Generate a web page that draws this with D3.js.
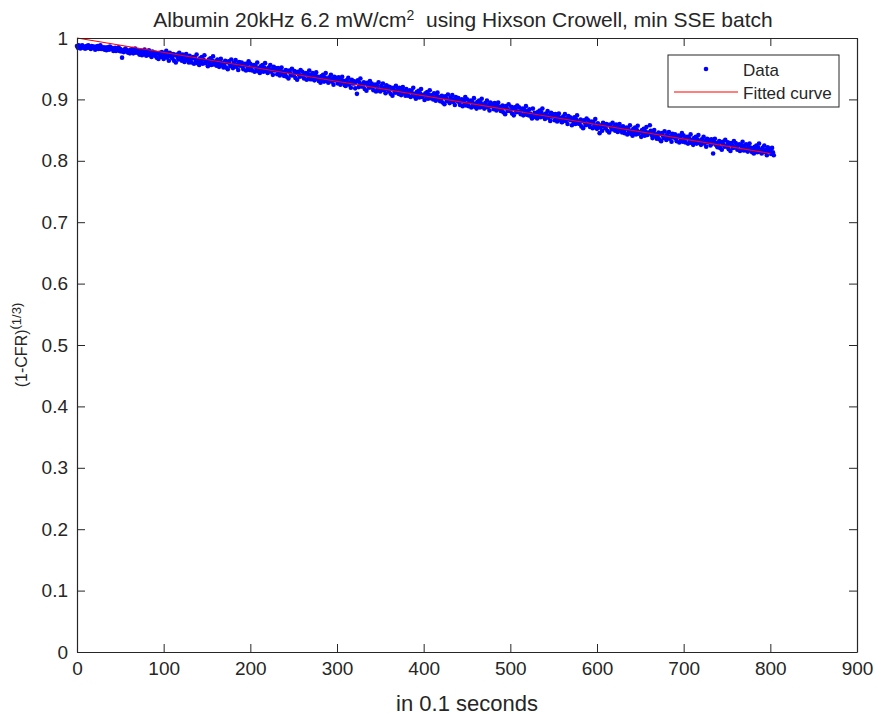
<!DOCTYPE html>
<html>
<head>
<meta charset="utf-8">
<script src="https://cdn.jsdelivr.net/npm/d3@7"></script>
<style>
  body { margin: 0; background: #fff; }
  text { font-family: "Liberation Sans", Arial, Helvetica, sans-serif; fill: #262626; }
</style>
</head>
<body>
<div id="graph"></div>
<script>
// one sample per time unit (0.1 s), t = 0 .. 804
const xStep = 1;
const dataValues = [
  0.987, 0.984, 0.988, 0.985, 0.983, 0.986, 0.988, 0.984, 0.986, 0.983,
  0.983, 0.987, 0.984, 0.988, 0.984, 0.985, 0.982, 0.987, 0.985, 0.986,
  0.984, 0.981, 0.986, 0.983, 0.987, 0.982, 0.985, 0.988, 0.982, 0.984,
  0.982, 0.985, 0.981, 0.984, 0.980, 0.985, 0.983, 0.981, 0.986, 0.982,
  0.984, 0.982, 0.979, 0.983, 0.984, 0.979, 0.983, 0.981, 0.985, 0.979,
  0.982, 0.978, 0.968, 0.980, 0.977, 0.981, 0.983, 0.978, 0.980, 0.976,
  0.979, 0.975, 0.981, 0.977, 0.982, 0.975, 0.979, 0.983, 0.976, 0.978,
  0.980, 0.976, 0.973, 0.977, 0.979, 0.972, 0.978, 0.975, 0.981, 0.973,
  0.971, 0.977, 0.973, 0.980, 0.972, 0.975, 0.969, 0.978, 0.974, 0.976,
  0.971, 0.976, 0.968, 0.975, 0.966, 0.976, 0.972, 0.969, 0.977, 0.970,
  0.966, 0.975, 0.969, 0.979, 0.968, 0.972, 0.963, 0.976, 0.970, 0.974,
  0.967, 0.974, 0.963, 0.972, 0.960, 0.973, 0.969, 0.965, 0.976, 0.966,
  0.970, 0.963, 0.973, 0.966, 0.961, 0.969, 0.974, 0.964, 0.967, 0.960,
  0.971, 0.964, 0.960, 0.967, 0.969, 0.958, 0.968, 0.963, 0.973, 0.959,
  0.964, 0.956, 0.967, 0.961, 0.969, 0.958, 0.965, 0.972, 0.959, 0.962,
  0.962, 0.954, 0.965, 0.959, 0.967, 0.956, 0.963, 0.970, 0.957, 0.960,
  0.962, 0.955, 0.965, 0.958, 0.953, 0.961, 0.966, 0.956, 0.959, 0.952,
  0.956, 0.963, 0.952, 0.961, 0.949, 0.962, 0.958, 0.954, 0.965, 0.955,
  0.951, 0.960, 0.954, 0.964, 0.953, 0.957, 0.948, 0.961, 0.955, 0.959,
  0.960, 0.953, 0.949, 0.956, 0.958, 0.947, 0.957, 0.952, 0.962, 0.948,
  0.958, 0.951, 0.947, 0.954, 0.956, 0.945, 0.955, 0.950, 0.960, 0.946,
  0.951, 0.943, 0.954, 0.948, 0.956, 0.945, 0.952, 0.959, 0.946, 0.949,
  0.943, 0.952, 0.946, 0.956, 0.945, 0.949, 0.940, 0.953, 0.947, 0.951,
  0.948, 0.941, 0.951, 0.944, 0.939, 0.947, 0.952, 0.942, 0.945, 0.938,
  0.941, 0.948, 0.937, 0.946, 0.934, 0.947, 0.943, 0.939, 0.950, 0.940,
  0.939, 0.946, 0.935, 0.944, 0.932, 0.945, 0.941, 0.937, 0.948, 0.938,
  0.945, 0.938, 0.934, 0.941, 0.943, 0.932, 0.942, 0.937, 0.947, 0.933,
  0.940, 0.933, 0.943, 0.936, 0.931, 0.939, 0.944, 0.934, 0.937, 0.930,
  0.935, 0.927, 0.938, 0.932, 0.940, 0.929, 0.936, 0.943, 0.930, 0.933,
  0.927, 0.936, 0.930, 0.940, 0.929, 0.933, 0.924, 0.937, 0.931, 0.935,
  0.933, 0.926, 0.936, 0.929, 0.924, 0.932, 0.937, 0.927, 0.930, 0.923,
  0.922, 0.931, 0.925, 0.935, 0.924, 0.928, 0.919, 0.932, 0.926, 0.930,
  0.926, 0.918, 0.929, 0.909, 0.931, 0.920, 0.927, 0.934, 0.921, 0.924,
  0.921, 0.928, 0.917, 0.926, 0.914, 0.927, 0.923, 0.919, 0.930, 0.920,
  0.926, 0.919, 0.915, 0.922, 0.924, 0.913, 0.923, 0.918, 0.928, 0.914,
  0.913, 0.922, 0.916, 0.926, 0.915, 0.919, 0.910, 0.923, 0.917, 0.921,
  0.913, 0.920, 0.909, 0.918, 0.906, 0.919, 0.915, 0.911, 0.922, 0.912,
  0.916, 0.909, 0.919, 0.912, 0.907, 0.915, 0.920, 0.910, 0.913, 0.906,
  0.917, 0.910, 0.906, 0.913, 0.915, 0.904, 0.914, 0.909, 0.919, 0.905,
  0.909, 0.901, 0.912, 0.906, 0.914, 0.903, 0.910, 0.917, 0.904, 0.907,
  0.907, 0.899, 0.910, 0.904, 0.912, 0.901, 0.908, 0.915, 0.902, 0.905,
  0.907, 0.900, 0.910, 0.903, 0.898, 0.906, 0.911, 0.901, 0.904, 0.897,
  0.899, 0.906, 0.895, 0.904, 0.892, 0.905, 0.901, 0.897, 0.908, 0.898,
  0.894, 0.903, 0.897, 0.907, 0.896, 0.900, 0.891, 0.904, 0.898, 0.902,
  0.902, 0.895, 0.891, 0.898, 0.900, 0.889, 0.899, 0.894, 0.904, 0.890,
  0.900, 0.893, 0.889, 0.896, 0.898, 0.887, 0.897, 0.892, 0.902, 0.888,
  0.893, 0.885, 0.896, 0.890, 0.898, 0.887, 0.894, 0.901, 0.888, 0.891,
  0.885, 0.894, 0.888, 0.898, 0.887, 0.891, 0.882, 0.895, 0.889, 0.893,
  0.891, 0.884, 0.894, 0.887, 0.882, 0.890, 0.895, 0.885, 0.888, 0.881,
  0.883, 0.890, 0.879, 0.888, 0.876, 0.889, 0.885, 0.881, 0.892, 0.882,
  0.881, 0.888, 0.877, 0.886, 0.874, 0.887, 0.883, 0.879, 0.890, 0.880,
  0.887, 0.880, 0.876, 0.883, 0.885, 0.874, 0.884, 0.879, 0.889, 0.875,
  0.881, 0.874, 0.884, 0.877, 0.872, 0.869, 0.885, 0.875, 0.878, 0.871,
  0.877, 0.869, 0.880, 0.874, 0.882, 0.871, 0.878, 0.885, 0.872, 0.875,
  0.868, 0.877, 0.871, 0.881, 0.870, 0.874, 0.865, 0.878, 0.872, 0.876,
  0.873, 0.866, 0.876, 0.869, 0.864, 0.872, 0.877, 0.867, 0.870, 0.863,
  0.863, 0.872, 0.866, 0.876, 0.865, 0.869, 0.860, 0.873, 0.867, 0.871,
  0.866, 0.858, 0.869, 0.863, 0.871, 0.860, 0.867, 0.874, 0.861, 0.864,
  0.860, 0.867, 0.856, 0.865, 0.853, 0.866, 0.862, 0.858, 0.869, 0.859,
  0.866, 0.859, 0.855, 0.862, 0.864, 0.853, 0.863, 0.858, 0.868, 0.854,
  0.852, 0.861, 0.855, 0.845, 0.854, 0.858, 0.849, 0.862, 0.856, 0.860,
  0.853, 0.860, 0.849, 0.858, 0.846, 0.859, 0.855, 0.851, 0.862, 0.852,
  0.856, 0.849, 0.859, 0.852, 0.847, 0.855, 0.860, 0.850, 0.853, 0.846,
  0.856, 0.849, 0.845, 0.852, 0.854, 0.843, 0.853, 0.848, 0.858, 0.844,
  0.849, 0.841, 0.852, 0.846, 0.854, 0.843, 0.850, 0.857, 0.844, 0.847,
  0.847, 0.839, 0.850, 0.844, 0.852, 0.841, 0.848, 0.855, 0.842, 0.845,
  0.846, 0.858, 0.849, 0.842, 0.837, 0.845, 0.850, 0.840, 0.843, 0.836,
  0.839, 0.846, 0.835, 0.844, 0.832, 0.845, 0.841, 0.837, 0.848, 0.838,
  0.834, 0.843, 0.837, 0.847, 0.836, 0.840, 0.831, 0.844, 0.838, 0.842,
  0.843, 0.836, 0.832, 0.839, 0.841, 0.830, 0.840, 0.835, 0.845, 0.831,
  0.841, 0.834, 0.830, 0.837, 0.839, 0.828, 0.838, 0.833, 0.843, 0.829,
  0.834, 0.826, 0.837, 0.831, 0.839, 0.828, 0.835, 0.842, 0.829, 0.832,
  0.826, 0.835, 0.829, 0.839, 0.828, 0.832, 0.823, 0.836, 0.830, 0.834,
  0.832, 0.825, 0.835, 0.828, 0.812, 0.831, 0.836, 0.826, 0.829, 0.822,
  0.825, 0.832, 0.821, 0.830, 0.818, 0.831, 0.827, 0.823, 0.834, 0.824,
  0.823, 0.830, 0.819, 0.828, 0.816, 0.829, 0.825, 0.821, 0.832, 0.822,
  0.829, 0.822, 0.818, 0.825, 0.827, 0.816, 0.826, 0.821, 0.831, 0.817,
  0.824, 0.817, 0.827, 0.820, 0.815, 0.823, 0.828, 0.818, 0.821, 0.814,
  0.820, 0.812, 0.823, 0.817, 0.825, 0.814, 0.821, 0.828, 0.815, 0.818,
  0.812, 0.821, 0.815, 0.825, 0.814, 0.818, 0.809, 0.822, 0.816, 0.820,
  0.818, 0.811, 0.821, 0.814, 0.809
];
// fitted curve end points
const fitX = [0, 800];
const fitY = [1.0, 0.812];
const xTicks = [0, 100, 200, 300, 400, 500, 600, 700, 800, 900];
const yTicks = [0, 0.1, 0.2, 0.3, 0.4, 0.5, 0.6, 0.7, 0.8, 0.9, 1];
const legendLabels = ["Data", "Fitted curve"];

const W = 876, H = 717;
const margin = {top: 38, right: 19, bottom: 65, left: 77};
const width = W - margin.left - margin.right,
      height = H - margin.top - margin.bottom;
const axisColor = "#262626";

const svg = d3.select("#graph").append("svg").attr("width", W).attr("height", H);
const g = svg.append("g").attr("transform", "translate(" + margin.left + "," + margin.top + ")");

const x = d3.scaleLinear().domain([0, 900]).range([0, width]);
const y = d3.scaleLinear().domain([0, 1]).range([height, 0]);

const data = dataValues.map((v, i) => ({t: i * xStep, v: v}));

// data points
g.append("g")
  .selectAll("circle")
  .data(data)
  .join("circle")
    .attr("cx", d => x(d.t))
    .attr("cy", d => y(d.v))
    .attr("r", 2.3)
    .attr("fill", "#0000ff");

// fitted line
g.append("path")
  .datum(fitX.map((t, i) => [t, fitY[i]]))
  .attr("fill", "none")
  .attr("stroke", "#ff0000")
  .attr("stroke-width", 1.1)
  .attr("d", d3.line().x(d => x(d[0])).y(d => y(d[1])));

// axes, ticks inward, box on all sides
function styleAxis(sel) {
  sel.select(".domain").attr("stroke", axisColor).attr("stroke-width", 1.2);
  sel.selectAll(".tick line").attr("stroke", axisColor).attr("stroke-width", 1);
  sel.selectAll(".tick text").attr("fill", axisColor).style("font-size", "19px");
}
const tl = 8;
g.append("g").attr("transform", "translate(0," + height + ")")
  .call(d3.axisBottom(x).tickValues(xTicks).tickSizeInner(-tl).tickSizeOuter(0).tickPadding(10).tickFormat(d3.format("d")))
  .call(styleAxis);
g.append("g")
  .call(d3.axisTop(x).tickValues(xTicks).tickSizeInner(-tl).tickSizeOuter(0).tickFormat(""))
  .call(styleAxis);
g.append("g")
  .call(d3.axisLeft(y).tickValues(yTicks).tickSizeInner(-tl).tickSizeOuter(0).tickPadding(9).tickFormat(d => d === 0 || d === 1 ? d : d3.format(".1f")(d)))
  .call(styleAxis);
g.append("g").attr("transform", "translate(" + width + ",0)")
  .call(d3.axisRight(y).tickValues(yTicks).tickSizeInner(-tl).tickSizeOuter(0).tickFormat(""))
  .call(styleAxis);

// title
const title = svg.append("text")
  .attr("x", margin.left + width / 2 - 4).attr("y", 27)
  .attr("text-anchor", "middle")
  .style("font-size", "21px");
title.append("tspan").text("Albumin 20kHz 6.2 mW/cm");
title.append("tspan").text("2").attr("dy", -7).style("font-size", "14px");
title.append("tspan").text("  using Hixson Crowell, min SSE batch").attr("dy", 7).style("white-space", "pre");

// x label
svg.append("text")
  .attr("x", margin.left + width / 2).attr("y", 711)
  .attr("text-anchor", "middle")
  .style("font-size", "22px")
  .text("in 0.1 seconds");

// y label
const ylab = svg.append("text")
  .attr("transform", "translate(27," + (margin.top + height / 2) + ") rotate(-90)")
  .attr("text-anchor", "middle")
  .style("font-size", "16px");
ylab.append("tspan").text("(1-CFR)");
ylab.append("tspan").text("(").attr("dy", -8).style("font-size", "13px");
ylab.append("tspan").text("1/3)").attr("dy", 2).style("font-size", "13px");

// legend
const lg = svg.append("g").attr("transform", "translate(668,55)");
lg.append("rect").attr("width", 171).attr("height", 52)
  .attr("fill", "#fff").attr("stroke", axisColor).attr("stroke-width", 1);
lg.append("circle").attr("cx", 38).attr("cy", 14).attr("r", 2.3).attr("fill", "#0000ff");
lg.append("line").attr("x1", 6).attr("x2", 70).attr("y1", 37).attr("y2", 37)
  .attr("stroke", "#ff0000").attr("stroke-width", 1.1);
lg.selectAll("text.lab")
  .data(legendLabels)
  .join("text")
    .attr("class", "lab")
    .attr("x", 75)
    .attr("y", (d, i) => 21 + i * 23)
    .style("font-size", "17px")
    .text(d => d);
</script>
</body>
</html>
